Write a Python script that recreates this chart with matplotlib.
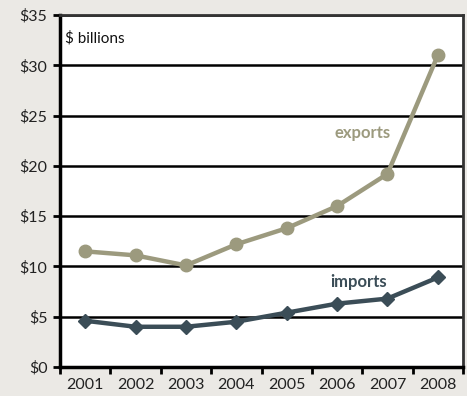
import matplotlib
matplotlib.use("Agg")
import matplotlib.pyplot as plt
from matplotlib.ticker import FuncFormatter, MultipleLocator, FixedLocator

years = ["2001", "2002", "2003", "2004", "2005", "2006", "2007", "2008"]
exports = [11.5, 11.1, 10.1, 12.2, 13.8, 16.0, 19.2, 31.0]
imports = [4.6, 4.0, 4.0, 4.5, 5.4, 6.3, 6.8, 8.9]

bg = "#ebe9e5"
exp_color = "#9c9a7e"
imp_color = "#3b4d57"

plt.rcParams["font.family"] = ["Lato", "DejaVu Sans"]

fig = plt.figure(figsize=(4.67, 3.96), dpi=100, facecolor=bg)
ax = fig.add_axes([60 / 467, 29 / 396, 403 / 467, 352 / 396])
ax.set_facecolor("white")

x = list(range(len(years)))
ax.plot(x, exports, color=exp_color, lw=3.2, marker="o", ms=9, zorder=3)
ax.plot(x, imports, color=imp_color, lw=3.2, marker="D", ms=7.5, zorder=3)

ax.set_xlim(-0.5, len(years) - 0.5)
ax.set_ylim(0, 35)

ax.yaxis.set_major_locator(MultipleLocator(5))
ax.yaxis.set_major_formatter(FuncFormatter(lambda v, p: f"${v:.0f}"))
ax.grid(axis="y", color="black", lw=1.8, zorder=1)

ax.set_xticks(x)
ax.set_xticklabels(years)
ax.xaxis.set_minor_locator(FixedLocator([i - 0.5 for i in range(len(years) + 1)]))
ax.tick_params(axis="x", which="major", length=0, pad=8, labelsize=11.5, colors="#222222")
ax.tick_params(axis="x", which="minor", length=5, width=2, color="black", direction="out")
ax.tick_params(axis="y", length=5, width=2, color="black", direction="out",
               labelsize=11.5, labelcolor="#222222", pad=4)

for side in ["top", "right"]:
    ax.spines[side].set_color("#333333")
    ax.spines[side].set_linewidth(2)
for side in ["left", "bottom"]:
    ax.spines[side].set_color("black")
    ax.spines[side].set_linewidth(2.5)

ax.text(0.012, 0.935, "$ billions", transform=ax.transAxes, fontsize=11,
        color="#111111", va="center", ha="left")
ax.text(5.5, 23.3, "exports", color=exp_color, fontsize=12, fontweight="bold",
        ha="center", va="center")
ax.text(5.42, 8.5, "imports", color=imp_color, fontsize=12, fontweight="bold",
        ha="center", va="center")

fig.savefig("out.png", dpi=100, facecolor=bg)
